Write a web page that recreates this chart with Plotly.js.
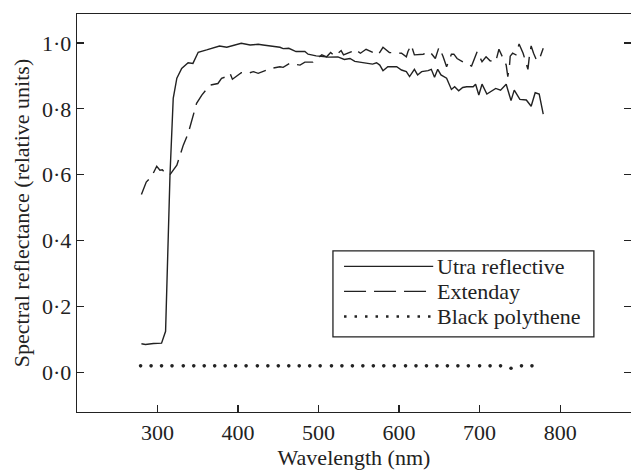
<!DOCTYPE html>
<html>
<head>
<meta charset="utf-8">
<script src="https://cdn.plot.ly/plotly-3.0.1.min.js"></script>
<style>html,body{margin:0;padding:0;background:#fff;}#chart{width:631px;height:473px;}</style>
</head>
<body>
<div id="chart"></div>
<script>
// Utra reflective (solid)
const ultraX = [280,285,295,305,310,315.5,319.5,324,330,338,344,350.5,361,370,377,386,395,404,415,425,431,440,452,456,463,472,483,487,497,512,524,532,539,545,559,567,572,576,580,586,597,603,609,613,619,623,628,636,640,644,648,652,659,665,669,674,679,684,692,695,699,703,709,720,726,733,739,743,750,758,764,769,774,779];
const ultraY = [0.087,0.085,0.088,0.089,0.125,0.60,0.832,0.893,0.923,0.94,0.938,0.972,0.979,0.985,0.991,0.987,0.993,0.999,0.994,0.996,0.994,0.991,0.987,0.983,0.984,0.974,0.974,0.966,0.961,0.957,0.958,0.95,0.953,0.944,0.938,0.936,0.94,0.933,0.916,0.928,0.928,0.918,0.913,0.898,0.92,0.903,0.913,0.916,0.92,0.896,0.92,0.903,0.893,0.859,0.867,0.855,0.865,0.867,0.867,0.875,0.842,0.875,0.845,0.862,0.857,0.875,0.825,0.857,0.829,0.827,0.808,0.849,0.845,0.784];

// Extenday (dashed)
const extX = [280,286,293,299,303,306,310,315,324,332,338,344,348.5,355,365,375,379.5,386,390,393,404,412.6,419,425,439.5,452,456,464,477,483,493,504,510,515,520,528,531,541,545,552,559,574,580,588,603,609,611,615,619,630,638,645,649.5,654.5,659,665,668,672,683,690,697,703,708,713,720,724,728,733,735,737,738,741,745,749,754,760,762,764,767,771,774.5,779];
const extY = [0.54,0.578,0.596,0.626,0.614,0.615,0.604,0.599,0.629,0.69,0.725,0.781,0.817,0.842,0.872,0.877,0.893,0.898,0.908,0.89,0.91,0.908,0.913,0.908,0.922,0.928,0.926,0.938,0.933,0.942,0.942,0.964,0.958,0.971,0.96,0.977,0.964,0.974,0.981,0.969,0.981,0.964,0.987,0.971,0.969,0.958,0.974,0.994,0.964,0.966,0.974,0.953,0.987,0.96,0.928,0.966,0.966,0.953,0.937,0.93,0.974,0.943,0.958,0.946,0.943,0.981,0.96,0.933,0.898,0.928,0.96,0.969,0.964,0.997,0.969,0.92,0.964,0.991,0.969,0.946,0.953,0.984];

// Black polythene (dotted)
const blackX = [279,292,305,318,332,345,358,371,384,397,410,424,437,450,463,476,489,502,516,529,542,555,568,581,594,608,621,634,647,660,673,686,700,713,726,739,752,765];
const blackY = [0.02,0.02,0.02,0.02,0.02,0.02,0.02,0.02,0.02,0.02,0.02,0.02,0.02,0.02,0.02,0.02,0.02,0.02,0.02,0.02,0.02,0.02,0.02,0.02,0.02,0.02,0.02,0.02,0.02,0.02,0.02,0.02,0.02,0.02,0.02,0.013,0.02,0.02];

const xTickVals = [300,400,500,600,700,800];
const xTickText = ['300','400','500','600','700','800'];
const yTickVals = [0,0.2,0.4,0.6,0.8,1.0];
const yTickText = ['0·0','0·2','0·4','0·6','0·8','1·0'];
const seriesNames = ['Utra reflective','Extenday','Black polythene'];

const FONT = 'Liberation Serif, Times New Roman, serif';
const INK = '#222';
const FS = 22;

const traces = [
  {x: ultraX, y: ultraY, mode: 'lines', name: seriesNames[0], line: {color: INK, width: 1.4}},
  {x: extX, y: extY, mode: 'lines', name: seriesNames[1], line: {color: INK, width: 1.4, dash: '17px,8px'}},
  {x: blackX, y: blackY, mode: 'markers', name: seriesNames[2], marker: {color: INK, size: 3.6}}
];

// custom legend (paper coords)
const L = {x0: 0.462, x1: 0.933, y0: 0.189, y1: 0.405, sx0: 0.482, sx1: 0.643, tx: 0.646};
const rowsY = [0.366, 0.303, 0.240];
const dashes = ['solid', '22px,8px', '2.5px,8px'];
const shapes = [
  {type: 'rect', xref: 'paper', yref: 'paper', x0: L.x0, x1: L.x1, y0: L.y0, y1: L.y1, line: {color: INK, width: 1.3}, fillcolor: 'rgba(0,0,0,0)'}
];
const annotations = [];
seriesNames.forEach((n, i) => {
  shapes.push({type: 'line', xref: 'paper', yref: 'paper', x0: L.sx0, x1: L.sx1, y0: rowsY[i], y1: rowsY[i],
    line: {color: INK, width: i === 2 ? 2.6 : 1.4, dash: dashes[i]}});
  annotations.push({xref: 'paper', yref: 'paper', x: L.tx, y: rowsY[i], text: n, showarrow: false,
    xanchor: 'left', yanchor: 'middle', font: {family: FONT, size: FS, color: INK}});
});

const axisCommon = {
  showgrid: false, zeroline: false, showline: true, linecolor: INK, linewidth: 1.3,
  ticks: 'inside', ticklen: 7, tickwidth: 1.2, tickcolor: INK,
  tickfont: {family: FONT, size: FS, color: INK}
};

const layout = {
  width: 631, height: 473,
  margin: {l: 77, r: 0, t: 14, b: 61},
  paper_bgcolor: '#fff', plot_bgcolor: '#fff',
  showlegend: false,
  font: {family: FONT, color: INK},
  xaxis: Object.assign({}, axisCommon, {
    range: [200, 888], tickvals: xTickVals, ticktext: xTickText, mirror: true,
    title: {text: 'Wavelength (nm)', font: {family: FONT, size: FS, color: INK}, standoff: 0}
  }),
  yaxis: Object.assign({}, axisCommon, {
    range: [-0.12, 1.088], tickvals: yTickVals, ticktext: yTickText, mirror: 'ticks',
    title: {text: 'Spectral reflectance (relative units)', font: {family: FONT, size: FS, color: INK}, standoff: 6}
  }),
  shapes: shapes,
  annotations: annotations
};

Plotly.newPlot('chart', traces, layout, {displayModeBar: false, staticPlot: true});
</script>
</body>
</html>
